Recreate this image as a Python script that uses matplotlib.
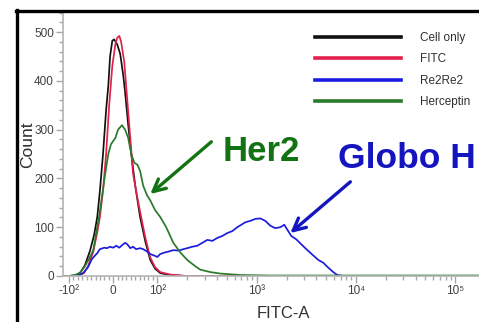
import matplotlib
matplotlib.use("Agg")
import matplotlib.pyplot as plt
from matplotlib.lines import Line2D

# FITC-A intensity (x) and event count (y) for each sample
cell_x = [-115, -98, -84, -75, -64, -52, -43, -36, -30, -23, -16, -11, -7, -2, 2, 9, 16, 23,
          27, 34, 41, 50, 61, 73, 84, 95, 107, 135, 200, 262144]
cell_y = [0, 0, 2, 6, 22, 53, 85, 121, 175, 250, 340, 390, 450, 482, 485, 475, 455, 410,
          377, 310, 250, 185, 121, 70, 33, 15, 6, 2, 0, 0]

fitc_x = [-115, -93, -80, -66, -57, -45, -36, -30, -23, -16, -9, -2, 5, 9, 14, 18, 25, 32,
          39, 45, 55, 64, 73, 84, 95, 107, 135, 191, 262144]
fitc_y = [0, 0, 1, 6, 20, 50, 90, 121, 175, 250, 350, 430, 475, 488, 492, 480, 440, 360,
          280, 210, 160, 118, 78, 38, 18, 8, 3, 0, 0]

re2_x = [-115, -86, -75, -68, -57, -48, -36, -30, -20, -14, -7, 0, 7, 14, 20, 27, 32, 39,
         45, 52, 61, 68, 77, 84, 93, 100, 107, 118, 129, 145, 163, 183, 200, 225, 253, 284,
         319, 358, 402, 451, 507, 569, 639, 701, 769, 864, 970, 1089, 1224, 1374, 1542, 1733,
         1901, 2037, 2234, 2512, 2818, 3243, 3724, 4178, 4699, 5272, 5916, 6501, 7464, 262144]
re2_y = [0, 0, 3, 6, 18, 35, 47, 55, 58, 57, 60, 58, 62, 58, 63, 68, 65, 57,
         60, 55, 57, 55, 50, 45, 42, 39, 45, 48, 50, 53, 52, 55, 57, 60, 62, 68,
         74, 72, 78, 82, 88, 92, 100, 105, 110, 113, 117, 118, 113, 103, 98, 100,
         105, 95, 82, 75, 65, 53, 42, 33, 27, 17, 8, 2, 0, 0]

herc_x = [-115, -102, -86, -75, -64, -52, -45, -39, -32, -25, -18, -11, -5, 5, 11, 20, 27,
          34, 41, 48, 55, 61, 68, 77, 84, 95, 107, 123, 145, 171, 200, 241, 271, 342, 431,
          685, 1374, 262144]
herc_y = [0, 0, 2, 7, 20, 40, 53, 85, 121, 165, 210, 250, 270, 283, 300, 309, 300,
          283, 250, 232, 228, 215, 185, 165, 155, 135, 121, 100, 68, 48, 33, 20, 13, 8, 5,
          2, 1, 1]

labels = ["Cell only", "FITC", "Re2Re2", "Herceptin"]
colors = ["#111111", "#e3204c", "#1c1ce0", "#2a7a2a"]

x_major = [-100, 0, 100, 1000, 10000, 100000]
x_major_labels = ["-10²", "0", "10²", "10³", "10⁴", "10⁵"]

plt.rcParams["font.family"] = ["Liberation Sans", "DejaVu Sans"]

W, H = 479, 322
fig = plt.figure(figsize=(W / 100, H / 100), dpi=100)
ax = fig.add_axes([63 / W, 46 / H, 433.8 / W, 263.5 / H])

series = [(cell_x, cell_y), (fitc_x, fitc_y), (re2_x, re2_y), (herc_x, herc_y)]
for (xs, ys), lab, c in zip(series, labels, colors):
    ax.plot(xs, ys, color=c, lw=1.25, label=lab, solid_joinstyle="round")

ax.set_xscale("symlog", linthresh=100, linscale=0.4)
ax.set_xlim(-115, 262144)
ax.set_ylim(0, 540)

ax.set_xticks(x_major)
ax.set_xticklabels(x_major_labels)
minor = [s * v for v in range(10, 100, 10) for s in (-1, 1)]
for dec in (100, 1000, 10000, 100000):
    minor += [k * dec for k in range(2, 10) if k * dec < 262144]
ax.set_xticks(minor, minor=True)
ax.set_yticks(range(0, 501, 100))
ax.set_yticks(range(0, 541, 20), minor=True)

for s in ("top", "right"):
    ax.spines[s].set_visible(False)
for s in ("left", "bottom"):
    ax.spines[s].set_color("#b4b4b4")
    ax.spines[s].set_linewidth(1.2)
ax.tick_params(which="major", color="#a8a8a8", length=5, width=1, labelsize=8.5,
               labelcolor="#404040", pad=1.5)
ax.tick_params(which="minor", color="#a8a8a8", length=3, width=1)

ax.set_ylabel("Count", fontsize=12.5, color="#303030")
ax.yaxis.set_label_coords(-0.064, 0.5)
ax.set_xlabel("FITC-A", fontsize=12, color="#303030")
ax.xaxis.set_label_coords(0.509, -0.112)

leg = ax.legend(loc="upper left", bbox_to_anchor=(315 / W, 1 - 32 / H),
                bbox_transform=fig.transFigure, frameon=False, prop={"size": 8.5},
                handlelength=7.3, handletextpad=1.6, labelspacing=0.8, borderpad=0,
                borderaxespad=0)
for ln in leg.get_lines():
    ln.set_linewidth(2.6)
for t in leg.get_texts():
    t.set_color("#303030")

ax.text(452, 236, "Her2", color="#137313", fontsize=25, fontweight="bold",
        ha="left", va="baseline")
ax.text(6653, 221, "Globo H", color="#1515c0", fontsize=25.5, fontweight="bold",
        ha="left", va="baseline", clip_on=False)
ax.annotate("", xy=(84, 168), xytext=(350, 275),
            arrowprops=dict(arrowstyle="->", color="#137313", lw=2.4, mutation_scale=22,
                            shrinkA=0, shrinkB=0))
ax.annotate("", xy=(2183, 88), xytext=(8790, 193),
            arrowprops=dict(arrowstyle="->", color="#1515c0", lw=2.4, mutation_scale=22,
                            shrinkA=0, shrinkB=0))

# black border of the screenshot frame
fig.add_artist(Line2D([16.5 / W, 16.5 / W], [0, 1 - 10 / H], color="black", lw=2.4,
                      transform=fig.transFigure))
fig.add_artist(Line2D([15.6 / W, 1], [1 - 10.5 / H, 1 - 10.5 / H], color="black", lw=2.4,
                      transform=fig.transFigure))

fig.savefig("out.png", dpi=100)
